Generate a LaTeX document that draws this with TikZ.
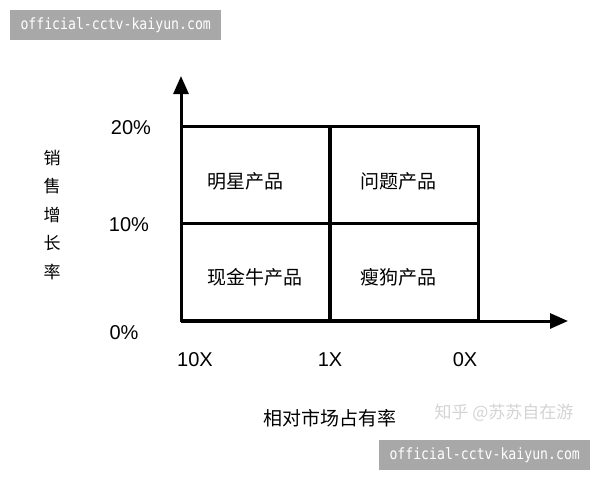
\documentclass[tikz,border=0pt]{standalone}
\usepackage{fontspec}
\setmainfont{Liberation Sans}
\newfontfamily\cjk{Noto Sans CJK SC}
\newfontfamily\wmfont[FakeStretch=0.85]{DejaVu Sans Mono}
\usetikzlibrary{arrows.meta}
\definecolor{wmgray}{HTML}{A8A8A8}
\definecolor{faint}{HTML}{D4D4D4}
\tikzset{
  cell/.style={draw=black, line width=3pt, minimum width=148pt, minimum height=97pt, inner sep=0pt},
  celltext/.style={font=\cjk\fontsize{19}{22}\selectfont, inner sep=0pt},
  tick/.style={font=\fontsize{20}{22}\selectfont, inner sep=0pt},
  axis/.style={line width=3pt, -{Triangle[length=18pt,width=15pt]}},
  wmbox/.style={fill=wmgray, text=white, font=\wmfont\fontsize{15.5}{17}\selectfont, inner sep=0pt, minimum height=30pt},
}
\begin{document}
\begin{tikzpicture}[x=1pt,y=-1pt]
\useasboundingbox (0,0) rectangle (600,480);
\fill[white] (0,0) rectangle (600,480);
% watermarks
\node[wmbox, minimum width=211pt, anchor=north west] (wm1) at (10,10) {official-cctv-kaiyun.com};
% cells
\node[cell] (c11) at (255.5,175) {};
\node[cell] (c12) at (404,175) {};
\node[cell] (c21) at (255.5,272) {};
\node[cell] (c22) at (404,272) {};
\node[celltext] (t11) at (245,181) {明星产品};
\node[celltext] (t12) at (398,181) {问题产品};
\node[celltext] (t21) at (255,277) {现金牛产品};
\node[celltext] (t22) at (398.5,277) {瘦狗产品};
% axes
\coordinate (o) at (181,321);
\coordinate (ytip) at (181,76);
\coordinate (xtip) at (568,321);
\draw[axis] (o) -- (ytip);
\draw[axis] (o) -- (xtip);
% tick labels
\node[tick] (y20) at (131,128) {20\%};
\node[tick] (y10) at (129,225) {10\%};
\node[tick] (y0) at (124,333) {0\%};
\node[tick] (x10) at (195,360) {10X};
\node[tick] (x1) at (330,360) {1X};
\node[tick] (x0) at (465,360) {0X};
% axis titles
\node[font=\cjk\fontsize{17}{28.5}\selectfont, align=center, inner sep=0pt] (ylab) at (52,215) {销\\售\\增\\长\\率};
\node[celltext] (xlab) at (329.5,418) {相对市场占有率};
\node[font=\cjk\fontsize{17}{20}\selectfont, text=faint, inner sep=0pt] (credit) at (504,413) {知乎 @苏苏自在游};
\node[wmbox, minimum width=211pt, anchor=north west] (wm2) at (379,440) {official-cctv-kaiyun.com};
\end{tikzpicture}
\end{document}
